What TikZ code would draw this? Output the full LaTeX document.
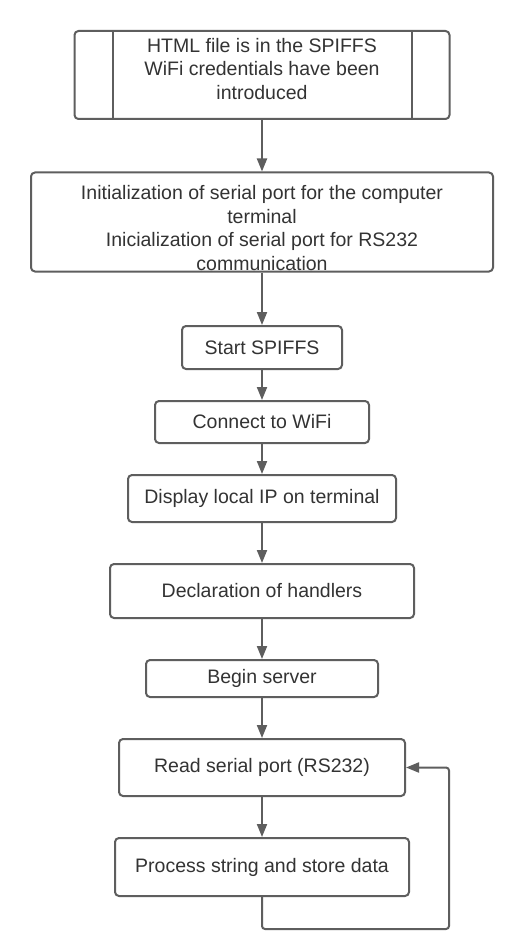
\documentclass[tikz,border=0pt]{standalone}
\usepackage{fontspec}
\setmainfont{Liberation Sans}
\usetikzlibrary{arrows.meta}
\definecolor{ln}{HTML}{5E5E5E}
\definecolor{tx}{HTML}{333333}
\begin{document}
\begin{tikzpicture}[x=1pt,y=-1pt,
  box/.style={draw=ln,line width=2pt,rounded corners=4pt,fill=white,inner sep=0pt,
    font=\fontsize{19.5}{23}\selectfont,text=tx,align=center},
  txt/.style={inner sep=0pt,font=\fontsize{19.5}{23.5}\selectfont,text=tx,align=center},
  arr/.style={draw=ln,line width=2pt,-{Triangle[width=10pt,length=13pt]}}]
\useasboundingbox[fill=white] (0,0) rectangle (526,952);
% box 1 (predefined process)
\node[box,minimum width=375,minimum height=88] (pre) at (262,75) {};
\draw[ln,line width=2pt] (113,31) -- (113,119) (412,31) -- (412,119);
\node[txt] (pretxt) at (262,69) {HTML file is in the SPIFFS\\WiFi credentials have been\\introduced};
% box 2
\node[box,minimum width=462,minimum height=99] (init) at (262,222) {};
\node[txt] (inittxt) at (262,228) {Initialization of serial port for the computer\\terminal\\Inicialization of serial port for RS232\\communication};
% others
\node[box,minimum width=160,minimum height=43] (spiffs) at (262,347.5) {Start SPIFFS};
\node[box,minimum width=214,minimum height=42] (wifi) at (262,422) {Connect to WiFi};
\node[box,minimum width=268,minimum height=47] (ip) at (262,498.5) {Display local IP on terminal};
\node[box,minimum width=304,minimum height=54] (hand) at (262,591) {Declaration of handlers};
\node[box,minimum width=232,minimum height=37] (serv) at (262,678.5) {Begin server};
\node[box,minimum width=286,minimum height=57] (read) at (262,767.5) {Read serial port (RS232)};
\node[box,minimum width=294,minimum height=58] (proc) at (262,867) {Process string and store data};
% connectors
\draw[arr] (pre.south) -- (init.north);
\draw[arr] (init.south) -- (spiffs.north);
\draw[arr] (spiffs.south) -- (wifi.north);
\draw[arr] (wifi.south) -- (ip.north);
\draw[arr] (ip.south) -- (hand.north);
\draw[arr] (hand.south) -- (serv.north);
\draw[arr] (serv.south) -- (read.north);
\draw[arr] (read.south) -- (proc.north);
\coordinate (lp) at (449,929);
\draw[arr,rounded corners=3pt] (proc.south) |- (lp) |- (read.east);
\end{tikzpicture}
\end{document}
